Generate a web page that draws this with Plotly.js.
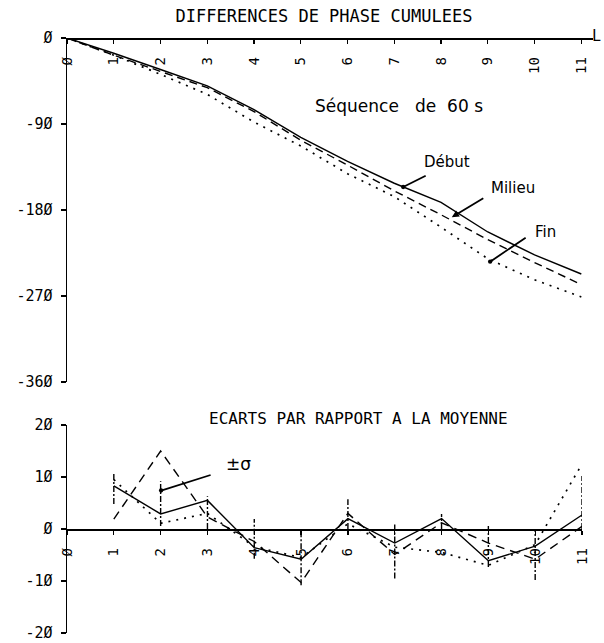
<!DOCTYPE html>
<html>
<head>
<meta charset="utf-8">
<script src="https://cdn.plot.ly/plotly-3.0.1.min.js"></script>
<style>html,body{margin:0;padding:0;background:#fff;}#chart{width:604px;height:643px;}</style>
</head>
<body>
<div id="chart"></div>
<script>
// ---- Data ----
const xL = [0, 1, 2, 3, 4, 5, 6, 7, 8, 9, 10, 11];
const phaseDebut  = [0, -16, -33, -50, -75, -104, -129, -152, -172, -203, -227, -247];
const phaseMilieu = [0, -18, -35, -52, -77, -107, -133, -160, -185, -211, -235, -258];
const phaseFin    = [0, -18, -38, -59, -88, -113, -142, -166, -198, -231, -253, -271];

const xDev = [1, 2, 3, 4, 5, 6, 7, 8, 9, 10, 11];
const devDebut  = [8.3, 2.9, 5.5, -3.6, -5.8, 2.0, -2.7, 2.0, -6.1, -3.3, 2.7];
const devMilieu = [1.9, 15.0, 2.3, -2.4, -10.3, 3.0, -4.9, 1.2, -2.7, -5.8, 0.5];
const devFin    = [9.5, 1.1, 3.0, -3.4, -5.5, 1.0, -3.5, -4.5, -7.0, -3.0, 12.5];
const sigmaLow  = [4.8, 0.6, 0, -5.7, -10.8, 0, -9.5, 0, -7.3, -9.8, 0];
const sigmaHigh = [10.7, 9.2, 6.3, 1.9, 0, 5.7, 1.0, 2.9, 0.6, 0, 10.2];

const xTickText = ['Ø', '1', '2', '3', '4', '5', '6', '7', '8', '9', '10', '11'];
const yTopTicks = [0, -90, -180, -270, -360];
const yTopText  = ['Ø', '-9Ø', '-18Ø', '-27Ø', '-36Ø'];
const yBotTicks = [20, 10, 0, -10, -20];
const yBotText  = ['2Ø', '1Ø', 'Ø', '-1Ø', '-2Ø'];

// ---- Layout helpers ----
const W = 604, H = 643;
const px = v => v / W;
const py = v => 1 - v / H;
const topDom = [py(382), py(38)];
const botDom = [py(633), py(425)];
const mono = 'DejaVu Sans Mono, monospace';
const hand = 'DejaVu Sans, sans-serif';

const sigX = [], sigY = [];
xDev.forEach((x, i) => { sigX.push(x, x, null); sigY.push(sigmaLow[i], sigmaHigh[i], null); });

const lineBase = {type: 'scatter', mode: 'lines', hoverinfo: 'skip'};
const data = [
  Object.assign({}, lineBase, {x: xL, y: phaseFin, xaxis: 'x', yaxis: 'y', line: {color: '#000', width: 1.7, dash: '2px,6px'}}),
  Object.assign({}, lineBase, {x: xL, y: phaseMilieu, xaxis: 'x', yaxis: 'y', line: {color: '#000', width: 1.4, dash: '8px,5px'}}),
  Object.assign({}, lineBase, {x: xL, y: phaseDebut, xaxis: 'x', yaxis: 'y', line: {color: '#000', width: 1.4}}),
  Object.assign({}, lineBase, {x: sigX, y: sigY, xaxis: 'x2', yaxis: 'y2', line: {color: '#000', width: 1.4, dash: '6px,2px,2px,2px'}}),
  Object.assign({}, lineBase, {x: xDev, y: devFin, xaxis: 'x2', yaxis: 'y2', line: {color: '#000', width: 1.7, dash: '2px,6px'}}),
  Object.assign({}, lineBase, {x: xDev, y: devMilieu, xaxis: 'x2', yaxis: 'y2', line: {color: '#000', width: 1.4, dash: '9px,6px'}}),
  Object.assign({}, lineBase, {x: xDev, y: devDebut, xaxis: 'x2', yaxis: 'y2', line: {color: '#000', width: 1.4}})
];

const xCommon = {
  tickmode: 'array', tickvals: xL, ticktext: xTickText, tickangle: -90,
  showline: true, linecolor: '#000', linewidth: 1.5,
  ticks: 'outside', ticklen: 4, tickcolor: '#000', tickwidth: 1.2,
  showgrid: false, zeroline: false, fixedrange: true,
  tickfont: {family: mono, size: 14, color: '#000'},
  anchor: 'free', side: 'bottom', ticklabelstandoff: 8, ticklabeloverflow: 'allow'
};
const yCommon = {
  tickmode: 'array', showline: true, linecolor: '#000', linewidth: 1.5,
  ticks: 'outside', ticklen: 5, tickcolor: '#000', tickwidth: 1.2,
  showgrid: false, zeroline: false, fixedrange: true,
  tickfont: {family: mono, size: 15, color: '#000'}, ticklabelstandoff: 5,
  ticklabeloverflow: 'allow'
};

const layout = {
  width: W, height: H,
  margin: {l: 0, r: 0, t: 0, b: 0},
  paper_bgcolor: '#fff', plot_bgcolor: '#fff',
  showlegend: false,
  title: {text: 'DIFFERENCES DE PHASE CUMULEES', x: px(324), y: py(16), xref: 'paper', yref: 'paper',
          xanchor: 'center', yanchor: 'middle', font: {family: mono, size: 17, color: '#000'}},
  xaxis: Object.assign({}, xCommon, {domain: [px(67), px(593)], range: [0, 11.25], position: topDom[1]}),
  yaxis: Object.assign({}, yCommon, {domain: topDom, range: [-360, 0], tickvals: yTopTicks, ticktext: yTopText, anchor: 'x'}),
  xaxis2: Object.assign({}, xCommon, {domain: [px(67), px(582)], range: [0, 11], position: (botDom[0] + botDom[1]) / 2}),
  yaxis2: Object.assign({}, yCommon, {domain: botDom, range: [-20, 20], tickvals: yBotTicks, ticktext: yBotText, anchor: 'x2'}),
  annotations: [
    {text: 'ECARTS PAR RAPPORT A LA MOYENNE', xref: 'paper', yref: 'paper', x: px(358), y: py(418),
     showarrow: false, xanchor: 'center', yanchor: 'middle', font: {family: mono, size: 16, color: '#000'}},
    {text: 'L', xref: 'paper', yref: 'paper', x: px(596), y: py(36), showarrow: false,
     xanchor: 'center', yanchor: 'middle', font: {family: mono, size: 15, color: '#000'}},
    {text: 'Séquence\u00a0\u00a0 de\u00a0 60 s', xref: 'paper', yref: 'paper', x: px(399), y: py(106), showarrow: false,
     xanchor: 'center', yanchor: 'middle', font: {family: hand, size: 17, color: '#000'}},
    {text: 'Début', xref: 'paper', yref: 'paper', x: px(447), y: py(162), showarrow: false,
     xanchor: 'center', yanchor: 'middle', font: {family: hand, size: 15, color: '#000'}},
    {text: 'Milieu', xref: 'paper', yref: 'paper', x: px(513), y: py(188), showarrow: false,
     xanchor: 'center', yanchor: 'middle', font: {family: hand, size: 15, color: '#000'}},
    {text: 'Fin', xref: 'paper', yref: 'paper', x: px(545), y: py(232), showarrow: false,
     xanchor: 'center', yanchor: 'middle', font: {family: hand, size: 15, color: '#000'}},
    {text: '±σ', xref: 'paper', yref: 'paper', x: px(238), y: py(464), showarrow: false,
     xanchor: 'center', yanchor: 'middle', font: {family: hand, size: 17, color: '#000'}},
    // pointer lines
    {text: '', xref: 'x', yref: 'y', x: 7.19, y: -155.9, ax: 24, ay: -12, showarrow: true,
     arrowhead: 6, arrowsize: 0.6, arrowwidth: 1.8, arrowcolor: '#000', standoff: 0},
    {text: '', xref: 'x', yref: 'y', x: 8.23, y: -187.6, ax: 33, ay: -20, showarrow: true,
     arrowhead: 2, arrowsize: 0.8, arrowwidth: 1.8, arrowcolor: '#000', standoff: 0},
    {text: '', xref: 'x', yref: 'y', x: 9.05, y: -234.1, ax: 37, ay: -25, showarrow: true,
     arrowhead: 6, arrowsize: 0.6, arrowwidth: 1.8, arrowcolor: '#000', standoff: 0},
    {text: '', xref: 'x2', yref: 'y2', x: 2.01, y: 7.4, ax: 51, ay: -16, showarrow: true,
     arrowhead: 6, arrowsize: 0.6, arrowwidth: 1.8, arrowcolor: '#000', standoff: 0}
  ]
};

Plotly.newPlot('chart', data, layout, {staticPlot: true, displayModeBar: false});
</script>
</body>
</html>
